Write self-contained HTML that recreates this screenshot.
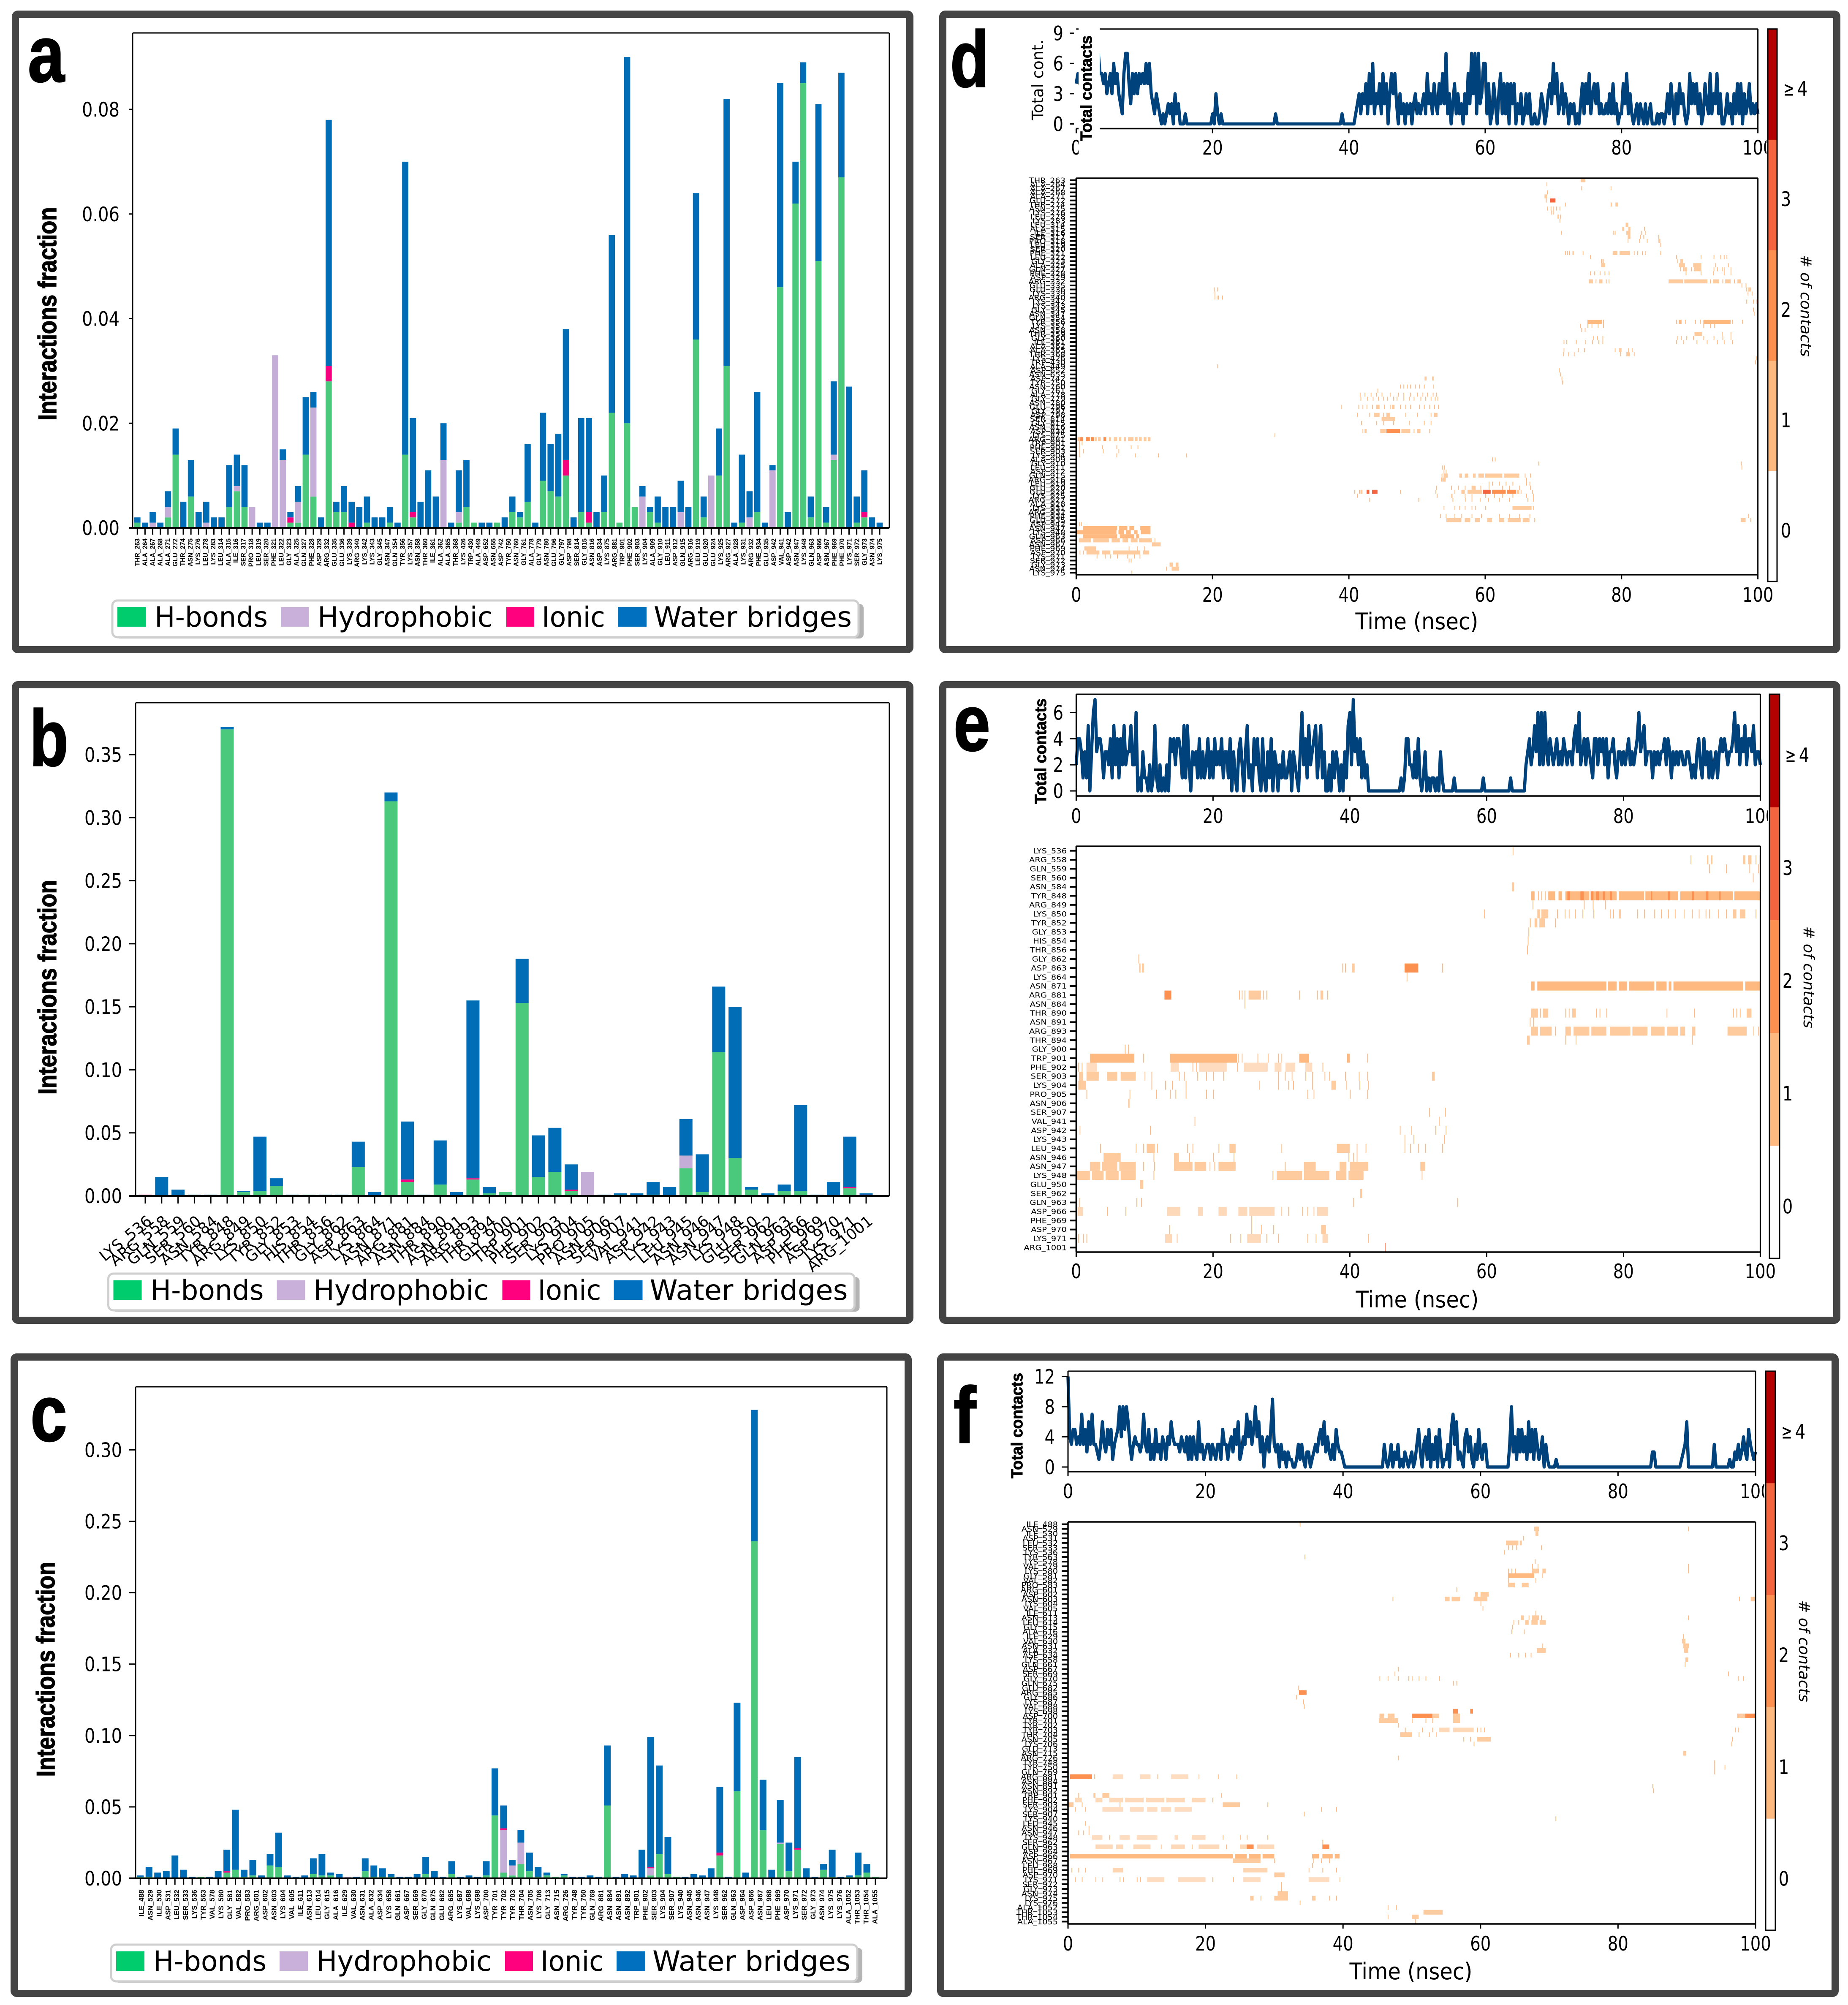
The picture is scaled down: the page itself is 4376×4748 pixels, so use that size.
<!DOCTYPE html>
<html lang="en">
<head>
<meta charset="utf-8">
<title>Protein-ligand interaction fractions and contact timelines</title>
<style>
html,body{margin:0;padding:0;background:#fff}
svg{display:block}
text{fill:#000}
.dj{font-family:"DejaVu Sans","Liberation Sans",sans-serif}
.lb{font-family:"Liberation Sans",sans-serif;font-weight:bold}
</style>
</head>
<body>
<svg id="figure" xmlns="http://www.w3.org/2000/svg" width="4376" height="4748" viewBox="0 0 4376 4748">
<rect x="0" y="0" width="4376" height="4748" fill="#fff"/>

<rect x="36.5" y="33.5" width="2118" height="1505" rx="6" fill="none" stroke="#444" stroke-width="17"/>
<rect x="36.5" y="1621.5" width="2118" height="1505" rx="6" fill="none" stroke="#444" stroke-width="17"/>
<rect x="33.5" y="3213.5" width="2117" height="1507" rx="6" fill="none" stroke="#444" stroke-width="17"/>
<rect x="2232.5" y="33.5" width="2117" height="1505" rx="6" fill="none" stroke="#444" stroke-width="17"/>
<rect x="2232.5" y="1621.5" width="2117" height="1505" rx="6" fill="none" stroke="#444" stroke-width="17"/>
<rect x="2227.5" y="3213.5" width="2118" height="1507" rx="6" fill="none" stroke="#444" stroke-width="17"/>

<g id="chart-a"></g>
<g id="chart-b"></g>
<g id="chart-c"></g>
<g id="chart-d"></g>
<g id="chart-e"></g>
<g id="chart-f"></g>

<g class="lb" fill="#000">
<text font-size="188" stroke="#000" stroke-width="3" transform="translate(66,193) scale(.83,1)">a</text>
<text font-size="188" stroke="#000" stroke-width="3" transform="translate(70,1813) scale(.8,1)">b</text>
<text font-size="188" stroke="#000" stroke-width="3" transform="translate(72,3412) scale(.83,1)">c</text>
<text font-size="188" stroke="#000" stroke-width="3" transform="translate(2250,205) scale(.8,1)">d</text>
<text font-size="188" stroke="#000" stroke-width="3" transform="translate(2258,1777) scale(.83,1)">e</text>
<text font-size="188" stroke="#000" stroke-width="3" transform="translate(2258,3416) scale(.85,1)">f</text>

<text font-size="60" stroke="#000" stroke-width="1.6" text-anchor="middle" textLength="505" lengthAdjust="spacingAndGlyphs" transform="translate(133,743) rotate(-90)">Interactions fraction</text>
<text font-size="60" stroke="#000" stroke-width="1.6" text-anchor="middle" textLength="508" lengthAdjust="spacingAndGlyphs" transform="translate(133,2338) rotate(-90)">Interactions fraction</text>
<text font-size="60" stroke="#000" stroke-width="1.6" text-anchor="middle" textLength="509" lengthAdjust="spacingAndGlyphs" transform="translate(129,3953) rotate(-90)">Interactions fraction</text>
</g>

<g class="dj" font-size="66">
<rect x="274" y="1430" width="1771" height="82" rx="10" fill="#b4b4b4"/>
<rect x="266" y="1422" width="1767" height="87" rx="12" fill="#fff" stroke="#cfcfcf" stroke-width="5"/>
<rect x="278" y="1438" width="67" height="46" fill="#00cc6e"/>
<text x="366" y="1484" textLength="268" lengthAdjust="spacingAndGlyphs">H-bonds</text>
<rect x="665" y="1438" width="67" height="46" fill="#c8b0da"/>
<text x="752" y="1484" textLength="415" lengthAdjust="spacingAndGlyphs">Hydrophobic</text>
<rect x="1199" y="1438" width="66" height="46" fill="#ff007f"/>
<text x="1283" y="1484" textLength="150" lengthAdjust="spacingAndGlyphs">Ionic</text>
<rect x="1463" y="1438" width="68" height="46" fill="#0070bf"/>
<text x="1548" y="1484" textLength="469" lengthAdjust="spacingAndGlyphs">Water bridges</text>
</g>
<g class="dj" font-size="66" transform="translate(-9.5,1594)">
<rect x="274" y="1430" width="1771" height="82" rx="10" fill="#b4b4b4"/>
<rect x="266" y="1422" width="1767" height="87" rx="12" fill="#fff" stroke="#cfcfcf" stroke-width="5"/>
<rect x="278" y="1438" width="67" height="46" fill="#00cc6e"/>
<text x="366" y="1484" textLength="268" lengthAdjust="spacingAndGlyphs">H-bonds</text>
<rect x="665" y="1438" width="67" height="46" fill="#c8b0da"/>
<text x="752" y="1484" textLength="415" lengthAdjust="spacingAndGlyphs">Hydrophobic</text>
<rect x="1199" y="1438" width="66" height="46" fill="#ff007f"/>
<text x="1283" y="1484" textLength="150" lengthAdjust="spacingAndGlyphs">Ionic</text>
<rect x="1463" y="1438" width="68" height="46" fill="#0070bf"/>
<text x="1548" y="1484" textLength="469" lengthAdjust="spacingAndGlyphs">Water bridges</text>
</g>
<g class="dj" font-size="66" transform="translate(-3,3183)">
<rect x="274" y="1430" width="1771" height="82" rx="10" fill="#b4b4b4"/>
<rect x="266" y="1422" width="1767" height="87" rx="12" fill="#fff" stroke="#cfcfcf" stroke-width="5"/>
<rect x="278" y="1438" width="67" height="46" fill="#00cc6e"/>
<text x="366" y="1484" textLength="268" lengthAdjust="spacingAndGlyphs">H-bonds</text>
<rect x="665" y="1438" width="67" height="46" fill="#c8b0da"/>
<text x="752" y="1484" textLength="415" lengthAdjust="spacingAndGlyphs">Hydrophobic</text>
<rect x="1199" y="1438" width="66" height="46" fill="#ff007f"/>
<text x="1283" y="1484" textLength="150" lengthAdjust="spacingAndGlyphs">Ionic</text>
<rect x="1463" y="1438" width="68" height="46" fill="#0070bf"/>
<text x="1548" y="1484" textLength="469" lengthAdjust="spacingAndGlyphs">Water bridges</text>
</g>

<g id="mask-d"><rect x="2554" y="55" width="50" height="325" fill="#fff"/></g>

<g class="dj">
<text font-size="54" text-anchor="middle" x="3355" y="1490" textLength="291" lengthAdjust="spacingAndGlyphs">Time (nsec)</text>
<text font-size="54" text-anchor="middle" x="3356" y="3096" textLength="291" lengthAdjust="spacingAndGlyphs">Time (nsec)</text>
<text font-size="54" text-anchor="middle" x="3341" y="4687" textLength="291" lengthAdjust="spacingAndGlyphs">Time (nsec)</text>
<text font-size="37" text-anchor="middle" transform="translate(2470,189) rotate(-90)">Total cont.</text>
<text font-size="36" font-style="italic" text-anchor="middle" transform="translate(4264,724) rotate(90)">&#35; of contacts</text>
<text font-size="36" font-style="italic" text-anchor="middle" transform="translate(4271,2314) rotate(90)">&#35; of contacts</text>
<text font-size="36" font-style="italic" text-anchor="middle" transform="translate(4260,3910) rotate(90)">&#35; of contacts</text>
</g>
<g class="lb">
<text font-size="38" stroke="#000" stroke-width="1" text-anchor="middle" textLength="250" lengthAdjust="spacingAndGlyphs" transform="translate(2585,209) rotate(-90)">Total contacts</text>
<text font-size="38" stroke="#000" stroke-width="1" text-anchor="middle" textLength="250" lengthAdjust="spacingAndGlyphs" transform="translate(2477,1779) rotate(-90)">Total contacts</text>
<text font-size="38" stroke="#000" stroke-width="1" text-anchor="middle" textLength="250" lengthAdjust="spacingAndGlyphs" transform="translate(2421,3376) rotate(-90)">Total contacts</text>
</g>
<script>
// ===== Chart data (bar values are interaction fraction x 1000) =====
const aLabels = ["THR_263","ALA_264","ALA_267","ALA_268","ALA_271","GLU_272","THR_274","ASN_275","LYS_276","LEU_278","LYS_283","LEU_314","ALA_315","ILE_316","SER_317","PRO_318","LEU_319","SER_320","PHE_321","LEU_322","GLY_323","ALA_325","GLN_327","PHE_328","ASP_329","ARG_332","GLU_335","GLU_336","LYS_339","ARG_340","LYS_342","LYS_343","GLY_345","ASN_347","GLN_354","TYR_356","LYS_357","ASN_358","THR_360","ILE_361","ALA_362","ALA_365","THR_368","LYS_426","TRP_430","ALA_449","ASP_652","ASN_655","ASP_742","TYR_750","ASN_760","GLY_761","ALA_778","GLY_779","ASN_780","GLU_796","GLY_797","ASP_798","SER_814","GLY_815","ASN_816","ASP_834","LYS_875","ARG_881","TRP_901","PHE_902","SER_903","LYS_904","ALA_909","GLY_910","LEU_911","ASP_912","GLN_915","ARG_916","LEU_919","GLU_920","GLU_924","LYS_925","ARG_927","ALA_928","LYS_931","ARG_932","PHE_934","GLU_935","ASP_942","VAL_941","ASP_942","ASN_947","LYS_948","GLN_963","ASP_966","ASN_967","PHE_969","PHE_970","LYS_971","SER_972","GLY_973","ASN_974","LYS_975"];
const aHbonds = [1,0,0,0,2,14,0,6,0,0, 0,0,4,7,4,0,0,0,0,0, 1,1,14,6,0,28,3,3,0,0, 1,0,0,1,0,14,2,0,0,0, 0,0,1,4,1,0,0,1,0,3, 2,5,0,9,7,6,10,0,3,1, 0,3,22,1,20,4,0,3,1,0, 0,0,0,36,2,0,10,31,0,1, 0,3,0,0,46,0,62,85,2,51, 1,13,67,0,1,2,0,0];
const aHydrophobic = [0,0,1,0,2,0,0,0,0,1, 0,0,0,1,0,4,0,0,33,13, 0,4,0,17,0,0,0,0,0,0, 0,0,0,0,0,0,0,0,0,0, 13,0,2,0,0,0,0,0,0,0, 0,0,0,0,0,0,0,0,0,0, 0,0,0,0,0,0,6,0,0,0, 0,3,0,0,0,10,0,0,0,0, 2,0,0,11,0,0,0,0,0,0, 0,1,0,0,0,0,0,0];
const aIonic = [0,0,0,0,0,0,0,0,0,0, 0,0,0,0,0,0,0,0,0,0, 1,0,0,0,0,3,0,0,1,0, 0,0,0,0,0,0,1,0,0,0, 0,0,0,0,0,0,0,0,0,0, 0,0,0,0,0,0,3,0,0,2, 0,0,0,0,0,0,0,0,0,0, 0,0,0,0,0,0,0,0,0,0, 0,0,0,0,0,0,0,0,0,0, 0,0,0,0,0,1,0,0];
const aWater = [1,1,2,1,3,5,5,7,3,4, 2,2,8,6,8,0,1,1,0,2, 1,3,11,3,2,47,2,5,4,4, 5,2,2,3,1,56,18,5,11,6, 7,1,8,9,0,1,1,0,2,3, 1,11,1,13,9,12,25,2,18,18, 3,7,34,0,70,0,2,1,5,4, 4,6,4,28,4,0,9,51,1,13, 5,23,1,1,39,3,8,4,4,30, 3,14,20,27,5,8,2,1];
const aTicks = [0,20,40,60,80];
const aTickLabels = ["0.00","0.02","0.04","0.06","0.08"];

const bLabels = ["LYS_536","ARG_558","GLN_559","SER_560","ASN_584","TYR_848","ARG_849","LYS_850","TYR_852","GLY_853","HIS_854","THR_856","GLY_862","ASP_863","LYS_864","ASN_871","ARG_881","ASN_884","THR_890","ASN_891","ARG_893","THR_894","GLY_900","TRP_901","PHE_902","SER_903","LYS_904","PRO_905","ASN_906","SER_907","VAL_941","ASP_942","LYS_943","LEU_945","ASN_946","ASN_947","LYS_948","GLU_950","SER_962","GLN_963","ASP_966","PHE_969","ASP_970","LYS_971","ARG_1001"];
const bHbonds = [0,0,0,0,0,370,3,4,8,0, 1,0,0,23,0,313,11,0,9,0, 13,2,3,153,15,19,4,0,0,1, 0,1,0,22,3,114,30,5,0,4, 4,0,0,6,0];
const bHydrophobic = [0,0,0,0,0,0,0,0,0,0, 0,0,0,0,0,0,0,0,0,0, 0,0,0,0,0,0,0,19,0,0, 0,0,0,10,0,0,0,0,0,0, 0,0,0,0,0];
const bIonic = [1,0,0,0,0,0,0,0,0,0, 0,0,0,0,0,0,2,0,0,0, 1,0,0,0,0,0,1,0,0,0, 0,0,0,0,0,0,0,0,0,0, 0,0,0,1,1];
const bWater = [0,15,5,1,1,2,1,43,6,1, 0,1,1,20,3,7,46,1,35,3, 141,5,0,35,33,35,20,0,1,1, 2,10,7,29,30,52,120,2,2,5, 68,1,11,40,1];
const bTicks = [0,50,100,150,200,250,300,350];
const bTickLabels = ["0.00","0.05","0.10","0.15","0.20","0.25","0.30","0.35"];

const cLabels = ["ILE_488","ASN_529","ILE_530","ASP_531","LEU_532","SER_533","LYS_536","TYR_563","VAL_578","LYS_580","GLY_581","VAL_582","PRO_583","ARG_601","ASP_602","ASN_603","LYS_604","VAL_605","ILE_611","ASN_613","LEU_614","GLY_615","ALA_616","ILE_629","VAL_630","ASN_631","ALA_632","ASP_634","LYS_658","GLN_661","ASP_667","SER_669","GLY_670","GLN_675","GLU_682","ARG_685","LYS_687","VAL_688","LYS_698","ASP_700","TYR_701","TYR_702","TYR_703","THR_704","ASN_705","LYS_706","GLY_713","ASN_715","ARG_726","TYR_748","TYR_750","GLN_769","ARG_881","ASN_884","ASN_891","ASN_892","TRP_901","PHE_902","SER_903","LYS_904","SER_907","LYS_940","ASN_945","ASN_946","ASN_947","LYS_948","SER_962","GLN_963","ASP_964","ASP_966","ASN_967","LEU_968","PHE_969","ASP_970","LYS_971","SER_972","GLY_973","ASN_974","LYS_975","LYS_976","ALA_1052","THR_1053","THR_1054","ALA_1055"];
const cHbonds = [1,1,0,0,0,0,0,1,0,0, 4,6,1,2,0,9,8,0,0,0, 3,2,2,0,0,0,5,1,1,1, 0,0,0,3,0,0,3,0,0,0, 2,44,4,2,10,5,1,2,1,2, 0,0,0,0,51,0,0,0,0,2, 17,3,1,0,0,0,0,16,0,61, 0,236,34,0,24,5,20,0,0,6, 1,0,1,2,4,1];
const cHydrophobic = [0,0,0,0,0,0,0,0,0,0, 0,0,0,0,0,0,0,0,0,0, 0,0,0,0,1,0,0,0,0,0, 0,0,0,0,0,0,0,0,0,0, 0,0,30,7,15,0,0,0,0,0, 0,0,0,0,0,0,0,0,0,5, 0,0,0,0,0,0,0,0,0,0, 0,0,0,0,1,0,0,0,0,0, 0,0,0,0,0,0];
const cIonic = [0,0,0,0,0,0,0,0,0,0, 1,0,0,0,0,0,0,0,0,0, 0,0,0,0,0,0,0,0,0,0, 0,0,0,0,0,0,0,0,0,0, 0,0,1,0,0,0,0,0,0,0, 0,0,0,0,0,0,0,0,0,1, 0,0,0,0,0,0,0,2,0,0, 0,0,0,0,0,0,1,0,0,0, 0,0,0,0,0,0];
const cWater = [1,7,4,5,16,6,1,0,1,5, 15,42,5,11,2,8,24,2,1,2, 11,15,2,3,0,1,9,8,6,2, 1,1,3,12,5,1,9,1,2,1, 10,33,16,4,9,13,7,2,0,1, 1,1,2,1,42,1,3,2,20,91, 62,26,0,1,3,2,7,46,1,62, 4,92,35,6,30,20,64,7,1,4, 19,1,1,16,6,0];
const cTicks = [0,50,100,150,200,250,300];
const cTickLabels = ["0.00","0.05","0.10","0.15","0.20","0.25","0.30"];

// Total contacts, one value every 0.25 ns, 0 to 100 ns
const dTotal = [
4,5,4,5,4,5,6,4,3,5,7,4,4,7,5,5,4,5,3,4,5,3,6,4,5,3,2,1,5,7,7,4,2,5,3,5,3,5,4,5,
4,6,4,6,3,2,1,3,2,1,0,1,0,1,2,1,2,0,3,1,2,0,0,0,1,0,0,0,0,0,0,0,0,0,0,0,0,0,0,0,
1,0,3,1,0,1,0,0,0,0,0,0,0,0,0,0,0,0,0,0,0,0,0,0,0,0,0,0,0,0,0,0,0,0,0,0,0,1,0,0,
0,0,0,0,0,0,0,0,0,0,0,0,0,0,0,0,0,0,0,0,0,0,0,0,0,0,0,0,0,0,0,0,0,0,0,0,1,0,0,0,
0,0,0,0,1,2,3,1,3,2,4,1,5,2,6,1,3,2,4,1,5,2,4,0,3,5,3,5,2,0,3,1,2,0,2,1,2,0,2,3,
1,2,1,2,3,1,5,2,3,1,4,2,1,4,2,5,2,7,1,3,0,2,4,1,3,1,2,0,3,1,5,2,7,3,7,1,7,2,3,6,
6,1,4,0,1,4,2,0,3,5,1,4,1,4,0,4,2,4,0,2,1,3,0,1,3,1,3,0,0,1,0,0,1,3,2,0,1,3,4,2,
6,3,5,1,2,4,1,3,2,0,2,1,2,0,1,0,2,4,1,4,2,5,1,3,4,2,4,1,2,1,1,2,1,3,1,4,1,2,0,1,
1,4,2,5,1,3,1,0,1,2,0,2,1,0,2,0,1,2,0,0,0,1,0,1,1,0,1,3,1,4,2,0,3,1,4,2,3,1,0,1,
5,2,4,2,4,1,3,0,1,4,2,1,5,1,3,2,5,1,3,0,0,1,3,1,2,0,3,1,4,1,4,0,3,1,2,4,1,2,1,2,
1];
const eTotal = [
2,4,4,3,1,3,1,5,0,3,6,7,3,4,4,3,1,3,3,2,4,1,5,2,4,1,4,2,5,2,3,3,5,2,2,6,0,1,0,3,
1,1,0,2,0,1,5,1,0,2,0,1,0,2,0,4,3,4,2,4,4,3,1,5,1,5,2,0,3,2,3,1,4,1,3,1,2,4,1,3,
1,4,2,3,2,4,1,3,3,1,4,0,3,1,0,3,4,2,0,3,5,1,2,0,4,2,4,1,0,4,1,0,3,1,4,0,3,2,0,2,
1,3,1,1,2,3,0,3,2,1,0,3,6,2,4,1,5,2,3,4,5,1,3,5,1,3,0,0,2,0,3,1,3,2,0,2,0,3,1,5,
6,2,7,3,4,2,4,1,3,1,2,0,0,0,0,0,0,0,0,0,0,0,0,0,0,0,0,0,0,0,1,0,1,4,4,2,2,1,3,1,
4,1,0,1,3,0,1,0,1,1,0,1,0,3,1,0,0,0,0,0,0,1,0,0,0,0,0,0,0,0,0,0,0,0,0,0,0,0,1,0,
0,0,0,0,0,0,0,0,0,0,0,0,0,0,1,0,0,0,0,0,0,0,0,2,3,4,2,3,5,3,6,2,6,2,6,3,2,4,3,2,
3,4,2,3,2,4,3,2,3,3,2,4,5,3,6,2,3,4,2,4,3,2,1,4,4,2,4,3,4,2,4,1,3,3,4,2,1,3,3,2,
3,2,3,4,2,3,2,3,4,6,3,4,5,2,3,3,3,1,3,2,3,2,3,3,4,2,4,3,1,3,2,3,2,3,3,2,2,3,3,2,
1,2,1,3,4,2,1,4,2,3,1,3,1,2,3,1,3,4,3,4,3,2,3,3,4,6,3,5,2,4,3,5,2,4,4,3,5,2,3,3,
2];
const fTotal = [
12,4,3,5,5,3,4,3,7,3,5,2,6,3,7,3,3,2,1,3,6,3,2,5,3,5,1,3,4,5,8,4,8,5,8,6,3,1,3,4,
3,3,2,3,7,3,2,5,1,3,1,5,2,3,1,4,3,1,4,3,6,4,3,3,3,2,4,3,2,4,1,4,1,4,2,1,6,2,3,1,
2,3,3,1,3,2,1,3,3,1,5,3,3,1,3,4,2,5,3,6,1,2,4,3,7,4,6,3,5,8,4,6,2,4,0,3,4,2,5,9,
3,2,3,0,3,1,2,0,2,1,1,0,0,1,3,1,3,1,0,2,2,0,1,2,3,2,4,5,3,6,2,4,2,1,3,1,5,3,2,2,
1,0,0,0,0,0,0,0,0,0,0,0,0,0,0,0,0,0,0,0,0,0,0,0,3,1,0,1,3,0,2,1,3,0,1,0,2,1,0,1,
2,0,1,3,5,2,0,3,4,1,5,0,3,1,4,0,5,2,0,1,1,3,0,5,7,3,6,1,2,1,0,4,5,2,4,1,0,3,1,5,
2,1,3,3,0,0,0,0,0,0,0,0,0,0,0,0,0,3,8,2,4,1,5,2,5,2,4,1,6,2,5,1,5,3,1,2,4,0,3,1,
0,0,0,0,1,0,0,0,0,0,0,0,0,0,0,0,0,0,0,0,0,0,0,0,0,0,0,0,0,0,0,0,0,0,0,0,0,0,0,0,
0,0,0,0,0,0,0,0,0,0,0,0,0,0,0,0,0,0,0,0,2,2,0,0,0,0,0,0,0,0,0,0,0,0,0,0,0,1,2,3,
6,0,0,0,0,0,0,0,0,0,0,0,0,0,0,0,3,0,0,0,0,0,0,0,0,1,0,0,2,1,3,1,2,4,2,1,5,3,2,1,
2];

const timeTicks = [0,20,40,60,80,100];
const dTotalTicks = [0,3,6,9];
const eTotalTicks = [0,2,4,6];
const fTotalTicks = [0,4,8,12];

const dResidues = ["THR_263","ALA_264","ALA_267","ALA_268","ALA_271","GLU_272","THR_274","ASN_275","LYS_276","LEU_278","LYS_283","LEU_314","ALA_315","ILE_316","SER_317","PRO_318","LEU_319","SER_320","PHE_321","LEU_322","GLY_323","ALA_325","GLN_327","PHE_328","ASP_329","ARG_332","GLU_335","GLU_336","LYS_339","ARG_340","LYS_342","LYS_343","GLY_345","ASN_347","GLN_354","TYR_356","LYS_357","ASN_358","THR_359","GLY_360","ILE_361","ALA_362","ALA_365","THR_368","LYS_426","TRP_430","ALA_449","ASP_652","ASN_655","ASP_742","TYR_750","ASN_760","GLY_761","ALA_778","GLY_779","ASN_780","GLU_796","GLY_797","ASP_798","SER_814","GLY_815","ASN_816","ASP_834","LYS_875","ARG_881","TRP_901","PHE_902","SER_903","LYS_904","ALA_909","GLY_910","LEU_911","ASP_912","GLN_915","ARG_916","LEU_919","GLU_920","GLU_924","LYS_925","ARG_927","ALA_928","LYS_931","ARG_932","PHE_934","GLU_935","ASP_942","ASN_947","LYS_948","GLN_963","ASP_966","ASN_967","PHE_969","ASP_970","LYS_971","SER_972","GLY_973","ASN_974","LYS_975"];
const eResidues = ["LYS_536","ARG_558","GLN_559","SER_560","ASN_584","TYR_848","ARG_849","LYS_850","TYR_852","GLY_853","HIS_854","THR_856","GLY_862","ASP_863","LYS_864","ASN_871","ARG_881","ASN_884","THR_890","ASN_891","ARG_893","THR_894","GLY_900","TRP_901","PHE_902","SER_903","LYS_904","PRO_905","ASN_906","SER_907","VAL_941","ASP_942","LYS_943","LEU_945","ASN_946","ASN_947","LYS_948","GLU_950","SER_962","GLN_963","ASP_966","PHE_969","ASP_970","LYS_971","ARG_1001"];
const fResidues = ["ILE_488","ASN_529","ILE_530","ASP_531","LEU_532","SER_533","LYS_536","TYR_563","LYS_578","VAL_579","LYS_580","GLY_581","VAL_582","PRO_583","ARG_601","ASP_602","ASN_603","LYS_604","VAL_605","ILE_611","ASN_613","LEU_614","GLY_615","ALA_616","ILE_629","VAL_630","ASN_631","ALA_632","ASP_634","LYS_658","GLN_661","ASP_667","SER_669","GLY_670","GLN_675","GLU_682","ARG_685","GLY_686","LYS_687","VAL_688","LYS_698","ASP_700","TYR_701","TYR_702","TYR_703","THR_704","ASN_705","LYS_706","GLU_713","ASN_715","ARG_726","TYR_748","TYR_750","GLN_769","ARG_881","ASN_884","ASN_891","ASN_892","TRP_901","PHE_902","SER_903","LYS_904","SER_907","LYS_940","LEU_945","ASN_946","ASN_947","LYS_948","SER_962","GLN_963","ASP_964","ASP_966","ASN_967","LEU_968","PHE_969","ASP_970","LYS_971","SER_972","GLY_973","ASN_974","LYS_975","LYS_976","ALA_1052","THR_1053","THR_1054","ALA_1055"];

// Contact events: [residue row, contact count, times in ns (number = single frame, pair = run), optional occupancy of that run]
const dContacts = [
[0,1,[[74,74.7]]],[1,1,[69]],[2,1,[74.1,78.4]],[3,1,[69.1]],[4,1,[[68.7,69.1]]],[5,3,[[69.5,70.3]]],[5,1,[68.9]],
[6,1,[71.7,[78.4,78.6],[79.1,79.5]]],[7,1,[69.1,69.6,70,70.4,70.9]],[8,1,[69.7,70]],[9,1,[[70.6,70.8],71]],[10,1,[70.9]],
[11,1,[[80.6,81]]],[12,1,[[80.1,80.4],[81,81.3],83.3]],[13,1,[71.1,78.8,79,[80.7,81.3],82.9,83.5]],[14,1,[[80.9,81.3],82.7,83.2,85.4]],
[15,1,[80.9,82.6,83.7,[85.4,85.7]]],[16,1,[85.7]],
[18,1,[71.7,72,72.3,[72.8,73],74.3,[78.7,79.4],[79.7,81.2],81.8,82.3,83,83.5,85.7]],
[19,1,[75.4,88,91.6,93.5,94.5,95,95.4]],[20,1,[77,[77.2,77.4],88.2,[88.6,89]]],
[21,1,[[77,77.6],[88.4,89.3],[90.5,91.7],93.7,95.6]],
[22,1,[88.6,89,[89.2,89.6],90.2,[90.6,91.7],93.5,94,94.7,95,96]],
[23,1,[75.4,76,76.8,77.5,78.1,89.4,91.6,93.4,95,96]],
[25,1,[[75.2,75.8],76.2,[76.7,77.2],77.7,78.1,[86.9,89],[89.2,92.6],93,[93.4,94.3],94.8,[95.2,96],96.5,[97,97.5]]],
[26,1,[97.6,98.2]],[27,1,[20.2,20.7,98.3,[98.6,99]]],[28,1,[20.3,98.5,99.1]],[29,1,[20.3,20.6,20.8,21.4]],[30,1,[98.3,99.3,99.8]],
[32,1,[99.3]],[33,1,[99.4]],
[35,1,[[75,77.1],77.3,88,[88.4,88.8],89.3,90.8,91.5,[92,96],96.2,97.7],1],
[36,1,[73.9,75,75.6,76.5,77.3,92,93,93.6]],[37,1,[74.1,74.6]],[38,1,[[90.7,91.8],94.7,96]],
[39,1,[75.8,76.4,77.2,88.2,88.7,89.5,90.5,92,93.5,94.8,96]],
[40,1,[71.5,71.9,73.3,74.7,75.7,76.6,77.2,88,89,91,92.5,94,95,96.2]],
[42,1,[71.5,73.6,74.5,79,[79.6,80],81,81.5]],[43,1,[71.4,72.2,73,79.8,[80.7,81.2],81.8]],[44,1,[99.7]],[45,1,[99.6]],[46,1,[20.7]],
[47,1,[70.8]],[48,1,[71]],[49,1,[71.2,[51.1,51.4],[52.2,52.5]]],[50,1,[71.3]],
[51,1,[47.5,48,48.5,49,49.7,50.3,51,52.4]],[52,1,[44.2]],
[53,1,[41.6,42.3,43.2,44,44.8,46,47.2,48,49,50,50.8,51.5,52.3,52.8]],
[54,1,[41.7,42.7,43.5,44.3,45,45.6,46.5,47,48,48.8,49.5,50.5,51.2,52,52.6,53]],
[56,1,[38.9,41.4,42,42.6,43.4,[44,44.5],45.2,46,[46.3,46.7],47.5,48.3,49,50.3,51,51.8,52.5,53.1]],
[58,1,[41.2,43,[43.7,44.5],45,[45.5,46],48.3,50,52,[52.5,53]]],[59,1,[[44.8,46.8]]],[60,1,[41.8,44,45,46.5,48.8,51,52]],
[62,1,[42,[42.3,42.6],[44.6,45.4],[47.7,49],49.5,[50,50.5],51.8]],[62,2,[[45.5,47.5]]],[63,1,[29.1]],
[64,1,[[0.2,0.6],[2.7,3],[3.2,3.6],[4.8,5.1],[5.5,6],[6.3,6.6],[7,7.3],[7.6,8.4],[8.6,9],[9.2,9.6],[9.9,10.3],[10.5,10.9]]],
[64,2,[[0.6,1],[1.4,2],[2.2,2.6],[4,4.4]]],
[65,1,[0.4,0.8]],[66,1,[0.4,3.8,5.9,8,9]],[67,1,[0.4,1,3.9,6.2]],[68,1,[0.4,5.9,8.6,12,16.1]],[69,1,[61,61.4]],[70,1,[67.8,97.5]],
[71,1,[53.7,54,97.6]],[72,1,[53.9,54.2]],
[73,1,[53.6,[53.9,54.5],[56.2,56.6],[57,57.5],[58.2,58.6],[59,59.8],[60,62.5],[62.8,65],65.8,66.6]],
[74,1,[53.5,[53.7,54.2],66]],[75,1,[60.5,61,62,63,64,66,66.5]],[76,1,[52.8,55,56,57,[58,58.6],59.3,60.5,62.5,63.5,65,66.6]],
[77,1,[40.8,41.5,[41.7,42],47.5,52.7,55.5,[56.5,57],[57.4,59.5],[64.6,65],65.2,66.9]],[77,3,[[42.6,43],[43.4,44.2],[59.7,60.8]]],[77,2,[[61,63],[63.2,64.5]]],
[78,1,[41.2,52.9,[55,55.2],57,58,60,61.3,62.5,64,66,67]],[79,1,[43,50.2,55.2,57.1,58,59.2,60.4,62,63.5,66.2,67]],
[81,1,[53.9,55.5,56.2,57,58,58.5,60,[64,66.8],67]],
[83,1,[53.4,54.2,55.5,56.5,58,59.4,62,63.5,65,66.5,98.6]],
[84,1,[[54.3,56.5],[57,57.8],[58.5,59.2],[60.3,61],[62,62.8],[63.3,65.2],[65.5,66.5],67.2,[97.5,98.2],98.9]],
[85,1,[0.4,0.7]],[86,1,[[1,6],[6.3,7.5],[7.8,8.5],[9.4,10.9]],1],[87,1,[[0,5.9],[6.2,7],[7.3,8],[8.5,9],[9.5,10.9]],1],[88,1,[[1,6],[6.4,8.5],[8.8,9.2]],1],
[89,1,[[0.4,2.2],[2.5,4.8],[5.2,6.4],[6.8,7.6],[8,9],[9.2,11.1],11.5]],[90,1,[[11.1,12.4]]],[91,1,[[1.2,2.9],7.7,8.9,10]],
[92,1,[0.5,1,[1.5,3.4],[3.8,5],[5.4,9.4],[9.8,10.7]]],[93,1,[3,4.2,5,6,7.5,8.5,9.3]],[94,1,[7.7,8]],
[95,1,[[13.7,14.2],[14.6,15]]],[96,1,[13.2,[14,15.1]]],[97,1,[8.1]]
];
const eContacts = [
[0,1,[63.8]],[1,1,[89.8,[92.2,92.4],[92.8,93],[97.5,97.8],[98.2,98.7],99.3,99.9]],[2,1,[92.5,95,98.4,99.7]],[3,1,[98.9]],[4,1,[[63.7,64]]],
[5,1,[[66.5,67],67.5,68,68.5,[69,70],[70.5,71],[71.5,75],[75.2,79],[79.3,83],[83.2,88],[88.3,92],[92.3,96],[96.2,100]],1],
[5,2,[[71.8,72.2],[73.7,74.2],[75.2,75.6],[76,76.4],[77,77.3],[78,78.3],[84,84.2],[86.5,86.8],[90,90.3],[92,92.4],[94,94.2]]],
[6,1,[66.7,74.2,75.5,77.3]],
[7,1,[59.6,[67.4,67.8],[68,69],70.3,71.4,72,72.9,74,75.6,78,78.5,[79.3,79.6],82,83,84.5,85.5,86.5,87.5,88.8,90,91,92,92.5,93.8,95,[96,96.5],[97,97.8],99.3]],
[8,1,[[66.3,66.5],[67,67.4],[67.7,68.5],70]],[9,1,[66.1]],[10,1,[66]],[11,1,[65.9]],[12,1,[9.1]],
[13,1,[[9.2,9.4],[9.6,9.9],38.9,39.3,[40.3,40.7],53.5]],[13,2,[[48,50]]],[14,1,[48.3]],
[15,1,[[66.5,67],[67.4,77.5],[77.7,79],[79.3,80.5],[80.8,84.5],[84.8,86.3],[86.6,87],[87.3,97.5],[97.8,100]],1],
[16,2,[[12.9,13.9]]],[16,1,[23.8,24.2,24.6,[25.2,27],27.3,27.8,32.6,35.2,[35.7,36.1],36.7]],[17,1,[24.6]],
[18,1,[[66.5,67.5],67.8,[68.2,69],71.5,72,[72.5,73],76,76.5,77.5,86.3,90.3,96,96.5,97,[98,98.7]]],[19,1,[66.3,66.8]],
[20,1,[[66.5,67.5],[67.8,69.5],70,[71.5,72.3],[72.7,75],[75.3,77.5],[78,81],[81.3,83.5],[84,86],[86.4,88],[88.3,89],[90,90.5],[95.2,98],99,99.7]],
[21,1,[[65.9,66.3],71.5,73,90]],[22,1,[7.1,7.6]],
[23,1,[[2,8.5],9.8,[13.7,23.5],23.7,24.2,26.5,28,29.5,30,[32.6,34],[39.6,40],42.5],1],
[24,1,[0.3,0.8,[1.5,3],[13.8,15],17,17.5,[18,22],23.5,[24.5,28],[29,30],[30.6,32],[33.5,34.5],36],.5],
[25,1,[[0.4,1],[1.5,3.3],[4.5,6],[6.5,8.7],10,11,15,15.8,17.7,19,20,21.5,29.5,30.5,31.5,33.5,34.5,36.3,37,39.3,41.3,42.5,[52,52.4]]],
[26,1,[[0.3,1.4],11,13,14,16,26.7,29.5,31,31.7,34.5,[37.3,38],39.5,41.4,42.7]],
[27,1,[1.5,7.8,11.7,13.7,14.5,16,19,20,33.8,34.7,40,42.5]],[28,1,[[7.6,7.8]]],[29,1,[51.6,53.9]],[30,1,[17.3,53]],
[31,1,[0.5,10.8,47.3,49,52.5,54]],[32,1,[48,49.3,53.8]],
[33,1,[3.5,8.7,9.8,[10.3,11.5],11.8,16.2,17,20.8,[22.4,23.3],30,[38.1,40],41,42.3,48,48.8,50,51,53.5]],
[34,1,[[4,6.5],11.3,[14.3,15],16.5,20,23,39.8,40.5,41]],
[35,1,[[2,3.5],[3.8,6],[6.3,8.7],9.8,11.4,[14.3,17],[17.3,19],19.5,20.2,[20.8,23.3],30.5,[33.3,35],[38.5,39.5],[40,42.7],[50.3,51]]],
[36,1,[[0,2],[2.3,4],[4.3,6.2],[6.5,8.7],11.3,28.7,[29.3,33],[33.3,37],[38,39.5],[39.8,42],50.5]],
[37,1,[[9.3,9.8]]],[38,1,[[41.5,41.8]]],[39,1,[0.4,8.8,9.5,40.5,55.7]],
[40,1,[[0.2,1],4.5,7.2,[13.3,15.2],[17.8,18.5],[20.8,22],[23.7,25],[25.3,29],30,31,33,33.8,34.7,[35.2,36.8]],.55],
[41,1,[25.6]],[42,1,[13.6,25.6,27,28.8,[35.8,36.5]]],
[43,1,[0.3,1,1.5,[13,14],14.7,22.5,24,[25,27],27.8,29.5,33.8,35,[36,36.8],42.7],.55],[44,3,[45.1]]
];
const fContacts = [
[0,1,[33.7]],[1,1,[[67.8,68.5],90.2]],[2,1,[[68,68.4]]],[3,1,[66.2]],[4,1,[[63.7,65.5],[65.7,66]]],[5,1,[64,64.6,65.2,68.8]],[6,1,[63.4]],[7,1,[34.4]],[8,1,[67.9]],
[9,1,[67.5,68.3,90.2]],[10,1,[64,64.5,65,[67.5,68.5],[69,69.5],90.2]],[11,1,[[64,67.8],69],1],[12,1,[64,68]],[13,1,[[64,65],[66,67]]],[14,1,[56.5]],[15,1,[[59.2,59.6],[60,61.2]]],
[16,1,[47.2,[54.8,55.5],[55.8,57],[59,61],97.6,[99.3,99.9]]],[17,1,[60]],[18,1,[60.3]],[19,1,[68]],[20,1,[[65.9,66.3],67,[67.5,68.5],68.8,90.2]],
[21,1,[64.8,65.5,[66.5,67],[67.4,68.3],[68.6,69.5]]],[22,1,[64.6]],[23,1,[64.5,66.3]],[24,1,[89.5]],[25,1,[[89.3,89.8]]],[26,1,[69,[89.5,90.3]]],[27,1,[[68.2,69.5],[89.6,90.2]]],
[28,1,[64.3,65.5,66.5,67.3]],[29,1,[[89.8,90.2]]],[30,1,[89.7]],[31,1,[48]],[32,1,[47.5,96]],[33,1,[45.3,46.5,48,49.5,50,51,52,54,97.5,98.2]],[34,1,[56,56.5]],
[35,1,[33.5]],[36,2,[[33.6,34.7]]],[37,1,[33.2]],[38,1,[34.2]],[39,1,[34.3]],[40,2,[[56,56.7],[58.5,58.9]]],
[41,1,[[45.3,46],[46.5,47.5],[53,54],[56,57],[97.3,98.5]]],[41,2,[[50,53],[98.5,100]]],[42,1,[[45.2,48],50,52,53,[56,57]]],[43,1,[48]],
[44,1,[49,51.5,53,[54,55.5],[56,59],59.5,60,60.5,97,97.5],.55],[45,1,[[48.3,50],51,52.5,53.5]],[46,1,[57.5,58.5,[59.5,61.5],96.6]],[47,1,[59,96.5]],[49,1,[[89.5,89.9]]],[50,1,[48]],[51,1,[94]],[52,1,[94,95.5]],[53,1,[94]],
[54,2,[[0.3,3.5]]],[54,1,[3.8,[6.5,8],[10.5,12],13,[15,17.5],19,21.8,24.5],.5],[56,1,[85]],[57,1,[85.1]],[58,1,[1.5,[3.7,4],[5,6],22.3]],
[59,1,[[1,2],[4,5],[6,8],[8.3,11],[11.3,14],[14.3,17],[18,20],21],.55],[60,1,[[0,0.8],2,7.5,[22.5,25],29]],[61,1,[1,2.5,[5,8],[9,11],[11.5,13],[13.5,15],[15.5,18],36.8,39],.5],[62,1,[34.3]],[63,1,[70.9]],[64,1,[2.5]],[65,1,[3]],[66,1,[1.5,2.2,3]],
[67,1,[[3.5,5],6,[7.5,9],[10,13],[15.5,16],[18,20],22.5,25,26,29],.5],[68,1,[37]],
[69,1,[[4,6.5],[7,8],[9.5,12],13.5,[15,17],18,[19,22],23,[25,26],[27.5,30]],.55],[69,2,[[26,27],[37,38]]],
[71,1,[[0.3,24],[24.3,26],[26.3,28],[28.3,30],[35.5,36.5],[37,38.5],[38.8,39.5]],1],[72,1,[[24,28],30,35.7,36.8,38]],[73,1,[35.5]],
[74,1,[0.5,1.5,2.5,[6.5,8],[25.5,29],35,37,39],.6],[75,1,[[30,31.5]]],[76,1,[1,2,4,5,7.5,8,10,10.5,[11.5,14],[16,20],21,24,[25.5,28],[35,38],39.5],.5],[77,1,[31]],[78,1,[31]],[79,1,[[30.5,32]]],
[80,1,[[26.5,27],28,[30,32],[35.5,36],38,39]],[81,1,[33.7]],[82,1,[46.5,47.7]],[83,1,[[51.7,54.5]]],[84,1,[46.5,[50,51]]],[85,1,[50.5]]
];

const contactColors = ["#ffffff","#fdb97f","#fc9050","#f4653f","#b30000"];
const barColors = ["#4ac97c","#c4aed8","#f5007f","#006db6"];
const barSeriesNames = ["hbonds","hydrophobic","ionic","water-bridges"];
const NS = "http://www.w3.org/2000/svg";

function linear(d0, d1, r0, r1) { return v => r0 + (v - d0) * (r1 - r0) / (d1 - d0); }

function drawLine(parent, name, x1, y1, x2, y2, w) {
  const el = document.createElementNS(NS, "line");
  el.setAttribute("x1", x1); el.setAttribute("y1", y1); el.setAttribute("x2", x2); el.setAttribute("y2", y2);
  el.setAttribute("stroke", "#000"); el.setAttribute("stroke-width", w);
  
  
  parent.appendChild(el);
  return el;
}
function drawRect(parent, name, x, y, w, h, fill) {
  const el = document.createElementNS(NS, "rect");
  el.setAttribute("x", x); el.setAttribute("y", y); el.setAttribute("width", w); el.setAttribute("height", h);
  el.setAttribute("fill", fill);
  
  
  parent.appendChild(el);
  return el;
}
function drawText(parent, name, str, transform, size, anchor, family, weight) {
  const el = document.createElementNS(NS, "text");
  el.setAttribute("transform", transform); el.setAttribute("font-size", size);
  el.setAttribute("text-anchor", anchor); el.setAttribute("font-family", family);
  if (weight) el.setAttribute("font-weight", weight);
  el.textContent = str;
  
  
  parent.appendChild(el);
  return el;
}
const DEJAVU = '"DejaVu Sans","Liberation Sans",sans-serif';
const LIB = '"Liberation Sans",sans-serif';

function drawBarChart(id, labels, hb, ph, ion, wat, ticks, tickLabels, g) {
  const root = document.getElementById(id);
  const y = linear(0, g.vRef, g.bottom, g.yRef);
  const x = linear(0, hb.length - 1, g.x0, g.x1);
  const lx = linear(0, labels.length - 1, g.lx0, g.lx1);
  const series = [hb, ph, ion, wat];
  hb.forEach((_, i) => {
    let acc = 0;
    series.forEach((s, k) => {
      if (!s[i]) return;
      const top = y(acc + s[i]);
      drawRect(root, "bar-" + barSeriesNames[k], x(i) - g.bw / 2, top, g.bw, y(acc) - top, barColors[k]);
      acc += s[i];
    });
    drawLine(root, "x-tick", x(i), g.bottom, x(i), g.bottom + g.tickLen, 3);
  });
  labels.forEach((l, i) => {
    if (g.rot) {
      drawText(root, "x-tick-label", l, "translate(" + (lx(i) + 18) + "," + (g.bottom + 64) + ") rotate(" + g.rot + ")", g.lf, "end", DEJAVU);
    } else {
      drawText(root, "x-tick-label", l, "translate(" + (lx(i) + 5.5) + "," + g.ltop + ") rotate(-90)", g.lf, "end", LIB, "bold");
    }
  });
  ticks.forEach((t, i) => {
    drawLine(root, "y-tick", g.left - g.ytick, y(t), g.left, y(t), 3);
    drawText(root, "y-tick-label", tickLabels[i], "translate(" + g.ylr + "," + (y(t) + 17) + ") scale(.85,1)", 47, "end", DEJAVU);
  });
  drawLine(root, "axis-top", g.left, g.top, g.right, g.top, 3);
  drawLine(root, "axis-right", g.right, g.top, g.right, g.bottom, 3);
  drawLine(root, "axis-left", g.left, g.top, g.left, g.bottom, 3);
  drawLine(root, "axis-bottom", g.left - g.ytick, g.bottom, g.right, g.bottom, 4);
}

drawBarChart("chart-a", aLabels, aHbonds, aHydrophobic, aIonic, aWater, aTicks, aTickLabels,
  {left:314,right:2106,top:78,bottom:1250,vRef:80,yRef:259,x0:325.3,x1:2083,lx0:325,lx1:2083,bw:14.7,tickLen:16,lf:15.3,ltop:1275,ytick:8,ylr:283});
drawBarChart("chart-b", bLabels, bHbonds, bHydrophobic, bIonic, bWater, bTicks, bTickLabels,
  {left:321,right:2106,top:1664,bottom:2832,vRef:350,yRef:1787,x0:344,x1:2051,lx0:344,lx1:2051,bw:31,tickLen:18,lf:36,rot:-39,ytick:15,ylr:289});
drawBarChart("chart-c", cLabels, cHbonds, cHydrophobic, cIonic, cWater, cTicks, cTickLabels,
  {left:321,right:2100,top:3284,bottom:4448,vRef:300,yRef:3433.4,x0:332.3,x1:2073,lx0:335,lx1:2072,bw:16,tickLen:15,lf:16.8,ltop:4475,ytick:15,ylr:289});

function drawContactChart(id, total, totalTicks, residues, contacts, g) {
  const root = document.getElementById(id);
  const x = linear(0, 100, g.x0, g.x100);
  const yT = linear(0, g.vRef, g.y0, g.yRef);
  const tIdx = i => i * 0.25;
  // total contacts line
  const line = document.createElementNS(NS, "polyline");
  line.setAttribute("points", total.map((v, i) => x(tIdx(i)).toFixed(1) + "," + yT(v).toFixed(1)).join(" "));
  line.setAttribute("fill", "none"); line.setAttribute("stroke", "#00427c");
  line.setAttribute("stroke-width", 7.5); line.setAttribute("stroke-linejoin", "round");
  
  
  root.appendChild(line);
  // top axes
  drawLine(root, "top-plot-axis-top", g.x0, g.tTop, g.x100, g.tTop, 3);
  drawLine(root, "top-plot-axis-bottom", g.x0, g.tBottom, g.x100, g.tBottom, 3.5);
  drawLine(root, "top-plot-axis-right", g.x100, g.tTop, g.x100, g.tBottom, 3);
  if (g.leftSpine) drawLine(root, "top-plot-axis-left", g.x0, g.tTop, g.x0, g.tBottom, 3);
  totalTicks.forEach(t => {
    drawLine(root, "top-y-tick", g.ytx0, yT(t), g.ytx1, yT(t), 3);
    drawText(root, "top-y-tick-label", String(t), "translate(" + g.ylr + "," + (yT(t) + 17) + ") scale(.82,1)", 47, "end", DEJAVU);
  });
  // heat rows
  const rowH = (g.hBottom - g.hTop) / residues.length;
  const yR = r => g.hTop + rowH * r;
  contacts.forEach(row => {
    const [r, level, times, occupancy] = row;
    const runOpacity = occupancy !== undefined ? occupancy : (level === 1 ? 0.75 : 1);
    times.forEach(ev => {
      const isRun = Array.isArray(ev);
      const a = isRun ? ev[0] : ev;
      const b = isRun ? ev[1] : ev + 0.1;
      const strip = drawRect(root, "contact-strip", x(a), yR(r), Math.max(x(b) - x(a), 1.8), rowH, contactColors[level]);
      if (isRun) strip.setAttribute("fill-opacity", runOpacity);
    });
  });
  // heat axes
  drawLine(root, "heatmap-axis-top", g.x0, g.hTop, g.x100, g.hTop, 3.5);
  drawLine(root, "heatmap-axis-bottom", g.x0, g.hBottom, g.x100, g.hBottom, 3.5);
  drawLine(root, "heatmap-axis-left", g.x0, g.hTop, g.x0, g.hBottom, 3.5);
  drawLine(root, "heatmap-axis-right", g.x100, g.hTop, g.x100, g.hBottom, 3);
  residues.forEach((l, i) => {
    const yy = yR(i + 0.5);
    drawLine(root, "residue-tick", g.x0 - 15, yy, g.x0, yy, g.rtw);
    drawText(root, "residue-label", l, "translate(" + g.rlr + "," + (yy + g.rf * 0.36) + ") scale(" + g.rsx + ",1)", g.rf, "end", DEJAVU);
  });
  // x ticks
  timeTicks.forEach(t => {
    drawLine(root, "top-x-tick", x(t), g.tBottom, x(t), g.tBottom + 11, 3);
    drawText(root, "top-x-tick-label", String(t), "translate(" + x(t) + "," + g.tLabelY + ") scale(.82,1)", 47, "middle", DEJAVU);
    drawLine(root, "x-tick", x(t), g.hBottom, x(t), g.hBottom + 11, 3);
    drawText(root, "x-tick-label", String(t), "translate(" + x(t) + "," + g.hLabelY + ") scale(.82,1)", 47, "middle", DEJAVU);
  });
  // colorbar
  const cbH = (g.cbBottom - g.cbTop) / 5;
  drawRect(root, "colorbar-background", g.cbX0 - 3, g.cbTop - 2, g.cbX1 - g.cbX0 + 6, g.cbBottom - g.cbTop + 4, "#fff");
  contactColors.forEach((c, i) => {
    const top = g.cbBottom - cbH * (i + 1);
    drawRect(root, "colorbar-segment", g.cbX0, top, g.cbX1 - g.cbX0, cbH + 0.5, c);
    const mid = top + cbH / 2;
    if (i < 4) {
      drawText(root, "colorbar-label", String(i), "translate(" + g.cbLx + "," + (mid + 27) + ") scale(.82,1)", 47, "middle", DEJAVU);
    } else {
      drawText(root, "colorbar-label-symbol", "\u2265", "translate(" + (g.cbLx + 7) + "," + (mid + 27) + ") scale(.65,1)", 47, "middle", DEJAVU);
      drawText(root, "colorbar-label", "4", "translate(" + (g.cbLx + 39) + "," + (mid + 27) + ") scale(.82,1)", 47, "middle", DEJAVU);
    }
  });
  const outline = drawRect(root, "colorbar-outline", g.cbX0, g.cbTop, g.cbX1 - g.cbX0, g.cbBottom - g.cbTop, "none");
  outline.setAttribute("stroke", "#000");
  outline.setAttribute("stroke-width", 3);
}

drawContactChart("chart-d", dTotal, dTotalTicks, dResidues, dContacts,
  {x0:2548.4,x100:4162.6,tTop:68.7,tBottom:304.5,y0:293.5,vRef:9,yRef:78.6,ytx0:2533,ytx1:2543,ylr:2518,hTop:422,hBottom:1361,rtw:4,rf:18,rsx:1.07,rlr:2523,tLabelY:366,hLabelY:1425,cbX0:4186,cbX1:4208,cbTop:68.7,cbBottom:1377,cbLx:4229});
drawContactChart("chart-e", eTotal, eTotalTicks, eResidues, eContacts,
  {x0:2548.4,x100:4168.4,tTop:1644,tBottom:1885,y0:1873,vRef:6,yRef:1687.4,ytx0:2533,ytx1:2548,ylr:2518,leftSpine:true,hTop:2004,hBottom:2965,rtw:4,rf:17,rsx:1.15,rlr:2526,tLabelY:1949,hLabelY:3027,cbX0:4190,cbX1:4214,cbTop:1644,cbBottom:2980,cbLx:4233});
drawContactChart("chart-f", fTotal, fTotalTicks, fResidues, fContacts,
  {x0:2529,x100:4157,tTop:3247,tBottom:3485,y0:3474,vRef:12,yRef:3259.6,ytx0:2514,ytx1:2529,ylr:2498,leftSpine:true,hTop:3604,hBottom:4556,rtw:4,rf:18,rsx:1.07,rlr:2505,tLabelY:3548,hLabelY:4619,cbX0:4181,cbX1:4204,cbTop:3247,cbBottom:4571,cbLx:4224});

// keep the mask above panel d's line, and its y title above the mask
const svgRoot = document.getElementById("figure");
const maskD = document.getElementById("mask-d");
svgRoot.insertBefore(maskD, document.getElementById("chart-e"));
</script>
</svg>
</body>
</html>
